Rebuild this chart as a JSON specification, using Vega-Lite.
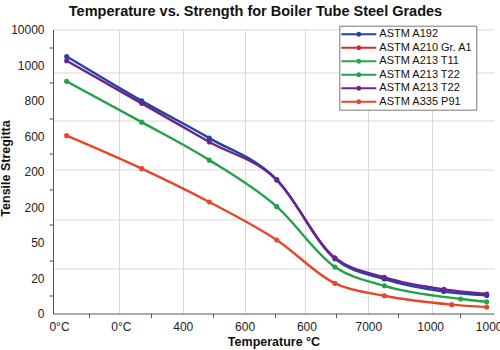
{
  "$schema": "https://vega.github.io/schema/vega-lite/v6.json",
  "width": 441,
  "height": 284,
  "autosize": {"type": "none"},
  "padding": {"left": 53, "top": 29.5, "right": 6, "bottom": 36.5},
  "background": "white",
  "title": {
    "text": "Temperature vs. Strength for Boiler Tube Steel Grades",
    "font": "Liberation Sans",
    "fontSize": 14.5,
    "fontWeight": "bold",
    "color": "#111111",
    "anchor": "middle",
    "dx": -18,
    "offset": 4
  },
  "config": {
    "view": {"stroke": null},
    "axis": {
      "labelFont": "Liberation Sans",
      "titleFont": "Liberation Sans",
      "labelColor": "#222222",
      "titleColor": "#111111",
      "domainColor": "#555555",
      "tickColor": "#555555",
      "gridColor": "#d9d9d9",
      "gridWidth": 1
    }
  },
  "data": {
    "values": [
      {"series": "ASTM A192", "temp": 12.4, "strength": 724},
      {"series": "ASTM A192", "temp": 133.7, "strength": 599},
      {"series": "ASTM A192", "temp": 243, "strength": 494},
      {"series": "ASTM A192", "temp": 352, "strength": 377},
      {"series": "ASTM A192", "temp": 446, "strength": 154},
      {"series": "ASTM A192", "temp": 526, "strength": 97},
      {"series": "ASTM A192", "temp": 622, "strength": 62},
      {"series": "ASTM A192", "temp": 691.4, "strength": 51},
      {"series": "ASTM A213 T22", "temp": 12.4, "strength": 654},
      {"series": "ASTM A213 T22", "temp": 133.7, "strength": 539},
      {"series": "ASTM A213 T22", "temp": 243, "strength": 432},
      {"series": "ASTM A213 T22", "temp": 352, "strength": 301},
      {"series": "ASTM A213 T22", "temp": 446, "strength": 131},
      {"series": "ASTM A213 T22", "temp": 526, "strength": 78},
      {"series": "ASTM A213 T22", "temp": 649.4, "strength": 41},
      {"series": "ASTM A213 T22", "temp": 691.4, "strength": 33},
      {"series": "ASTM A335 P91", "temp": 12.4, "strength": 501},
      {"series": "ASTM A335 P91", "temp": 133.7, "strength": 408},
      {"series": "ASTM A335 P91", "temp": 243, "strength": 314},
      {"series": "ASTM A335 P91", "temp": 352, "strength": 207},
      {"series": "ASTM A335 P91", "temp": 446, "strength": 85},
      {"series": "ASTM A335 P91", "temp": 526, "strength": 50},
      {"series": "ASTM A335 P91", "temp": 634.8, "strength": 25},
      {"series": "ASTM A335 P91", "temp": 691.4, "strength": 18},
      {"series": "ASTM A213 T22 ", "temp": 12.4, "strength": 712},
      {"series": "ASTM A213 T22 ", "temp": 133.7, "strength": 592},
      {"series": "ASTM A213 T22 ", "temp": 243, "strength": 483},
      {"series": "ASTM A213 T22 ", "temp": 352, "strength": 376},
      {"series": "ASTM A213 T22 ", "temp": 446, "strength": 157},
      {"series": "ASTM A213 T22 ", "temp": 526, "strength": 102},
      {"series": "ASTM A213 T22 ", "temp": 622.4, "strength": 68},
      {"series": "ASTM A213 T22 ", "temp": 691.4, "strength": 55}
    ]
  },
  "layer": [
    {
      "mark": {
        "type": "line",
        "interpolate": "monotone",
        "strokeWidth": 2.4,
        "point": {"filled": true, "size": 26}
      },
      "encoding": {
        "x": {
          "field": "temp",
          "type": "quantitative",
          "scale": {"domain": [-9.7, 703.2], "nice": false, "zero": false},
          "axis": {
            "orient": "bottom",
            "values": [0, 100, 200, 300, 400, 500, 600, 700],
            "labelExpr": "['0°C','0°C','400','600','600','7000','1000','10000'][round(datum.value/100)]",
            "grid": false,
            "tickOffset": 30,
            "labelOffset": -30,
            "tickSize": 4,
            "tickOpacity": {"condition": {"test": "datum.value >= 700", "value": 0}, "value": 1},
            "labelPadding": 4,
            "labelFontSize": 12,
            "labelFlush": false,
            "labelOverlap": false,
            "title": "Temperature °C",
            "titleFontSize": 12.5,
            "titleFontWeight": "bold",
            "titlePadding": 3
          }
        },
        "y": {
          "field": "strength",
          "type": "quantitative",
          "scale": {"domain": [0, 800], "nice": false, "zero": false},
          "axis": {
            "orient": "left",
            "values": [0, 100, 200, 300, 400, 500, 600, 700, 800],
            "labelExpr": "['0','20','50','200','200','600','800','1000','10000'][round(datum.value/100)]",
            "grid": false,
            "tickOffset": 17.75,
            "labelOffset": -17.75,
            "tickSize": 4,
            "tickOpacity": {"condition": {"test": "datum.value <= 0", "value": 0}, "value": 1},
            "labelPadding": 5,
            "labelFontSize": 12,
            "labelFlush": false,
            "labelOverlap": false,
            "title": "Tensile Stregitta",
            "titleFontSize": 12.5,
            "titleFontWeight": "bold",
            "titleX": -40.5,
            "titleY": 138.5,
            "titleAngle": -90,
            "titleAlign": "center",
            "titleBaseline": "bottom"
          }
        },
        "color": {
          "field": "series",
          "type": "nominal",
          "scale": {
            "domain": ["ASTM A192", "ASTM A210 Gr. A1", "ASTM A213 T11", "ASTM A213 T22", "ASTM A213 T22 ", "ASTM A335 P91"],
            "range": ["#2145a0", "#d62b2b", "#2ba64a", "#25a04c", "#6c2391", "#e5472c"]
          },
          "sort": null,
          "legend": {
            "orient": "none",
            "legendX": 286.3,
            "legendY": -3.8,
            "title": null,
            "strokeColor": "#777777",
            "fillColor": "white",
            "padding": 2.5,
            "symbolType": "M-3.5,0H3.5M0.3,0A0.3,0.3,0,1,1,-0.3,0A0.3,0.3,0,1,1,0.3,0",
            "symbolSize": 100,
            "symbolStrokeWidth": 2,
            "symbolOffset": 11,
            "labelOffset": 14.5,
            "labelFont": "Liberation Sans",
            "labelFontSize": 11,
            "labelColor": "#111111",
            "labelExpr": "datum.label + '\u00a0\u00a0\u00a0\u00a0\u00a0\u00a0\u00a0'",
            "rowPadding": 1.5
          }
        }
      }
    },
    {
      "mark": {"type": "point", "opacity": 0},
      "encoding": {
        "x": {
          "field": "temp",
          "type": "quantitative",
          "scale": {"domain": [-9.7, 703.2], "nice": false, "zero": false},
          "axis": {
            "orient": "top",
            "values": [97, 201, 300, 397, 500, 603],
            "grid": true,
            "labels": false,
            "ticks": false,
            "domain": false,
            "title": null
          }
        },
        "y": {
          "field": "strength",
          "type": "quantitative",
          "scale": {"domain": [0, 800], "nice": false, "zero": false},
          "axis": {
            "orient": "right",
            "values": [126, 265, 406, 544, 679, 800],
            "grid": true,
            "labels": false,
            "ticks": false,
            "domain": false,
            "title": null
          }
        }
      }
    }
  ],
  "resolve": {"axis": {"x": "independent", "y": "independent"}}
}
